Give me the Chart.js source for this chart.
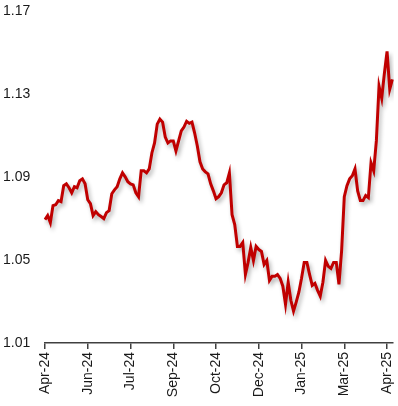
<!DOCTYPE html>
<html>
<head>
<meta charset="utf-8">
<script src="https://cdn.jsdelivr.net/npm/chart.js@4/dist/chart.umd.min.js"></script>
<style>
  html, body { margin: 0; padding: 0; background: #fff; }
  #wrap { width: 398px; height: 406px; position: relative; }
</style>
</head>
<body>
<div id="wrap"><canvas id="chart-id"></canvas></div>
<script>
// one point roughly every two trading days, Apr-24 .. Apr-25
const tickLabels = ['Apr-24', 'Jun-24', 'Jul-24', 'Sep-24', 'Oct-24', 'Dec-24', 'Jan-25', 'Mar-25', 'Apr-25'];
const tickEvery = 16;

const values = [
  1.0695, 1.0715, 1.0681, 1.0763, 1.0767, 1.0787, 1.0782, 1.0859, 1.0868, 1.0849,
  1.0825, 1.0854, 1.0849, 1.0883, 1.0892, 1.0868, 1.0791, 1.0772, 1.0715, 1.0734,
  1.0719, 1.0710, 1.0700, 1.0729, 1.0739, 1.0820, 1.0839, 1.0854, 1.0892, 1.0921,
  1.0902, 1.0878, 1.0868, 1.0863, 1.0825, 1.0806, 1.0931, 1.0931, 1.0921, 1.0940,
  1.1017, 1.1065, 1.1156, 1.1180, 1.1166, 1.1094, 1.1065, 1.1075, 1.1075, 1.1027,
  1.1075, 1.1123, 1.1142, 1.1170, 1.1160, 1.1166, 1.1113, 1.1051, 1.0974, 1.0940,
  1.0926, 1.0916, 1.0868, 1.0834, 1.0796, 1.0806, 1.0825, 1.0863, 1.0873, 1.0921,
  1.0719, 1.0671, 1.0566, 1.0566, 1.0585, 1.0431, 1.0489, 1.0561, 1.0498, 1.0566,
  1.0551, 1.0542, 1.0479, 1.0498, 1.0402, 1.0422, 1.0422, 1.0430, 1.0412, 1.0374,
  1.0287, 1.0393, 1.0306, 1.0254, 1.0297, 1.0345, 1.0412, 1.0489, 1.0489, 1.0431,
  1.0378, 1.0388, 1.0354, 1.0326, 1.0393, 1.0498, 1.0470, 1.0460, 1.0489, 1.0489,
  1.0383, 1.0546, 1.0806, 1.0859, 1.0892, 1.0907, 1.0940, 1.0834, 1.0787, 1.0787,
  1.0811, 1.0801, 1.0969, 1.0931, 1.1075, 1.1339, 1.1281, 1.1401, 1.1507, 1.1324,
  1.1372
];

const yMin = 1.01;
const yMax = 1.17;
const yStep = 0.04;

const labels = values.map((v, i) => (i % tickEvery === 0 ? tickLabels[i / tickEvery] : ''));

// soft grey drop shadow under the line, like the office chart
const lineShadow = {
  id: 'lineShadow',
  beforeDatasetDraw(chart) {
    const ctx = chart.ctx;
    ctx.save();
    ctx.shadowColor = 'rgba(0, 0, 0, 0.3)';
    ctx.shadowBlur = 4;
    ctx.shadowOffsetX = 2;
    ctx.shadowOffsetY = 3;
  },
  afterDatasetDraw(chart) {
    chart.ctx.restore();
  }
};

const axisColor = '#404040';

const config = {
  type: 'line',
  data: {
    labels: labels,
    datasets: [{
      data: values,
      borderColor: '#C00000',
      borderWidth: 3,
      pointRadius: 0,
      tension: 0,
      fill: false
    }]
  },
  options: {
    responsive: false,
    animation: false,
    devicePixelRatio: 1,
    layout: { padding: { left: 3, right: 5.6, top: 10, bottom: 0 } },
    plugins: { legend: { display: false }, tooltip: { enabled: false } },
    scales: {
      x: {
        type: 'category',
        offset: false,
        grid: {
          display: true,
          drawOnChartArea: false,
          drawTicks: true,
          tickLength: 6,
          color: axisColor,
          lineWidth: 1.5,
          offset: false
        },
        border: { display: true, color: axisColor, width: 1.5 },
        ticks: {
          autoSkip: false,
          minRotation: 90,
          maxRotation: 90,
          padding: 3,
          color: '#1a1a1a',
          font: { family: 'Liberation Sans', size: 14 }
        },
        afterBuildTicks: (s) => { s.ticks = s.ticks.filter(t => t.value % tickEvery === 0); },
        afterFit: (s) => { s.height = 63; s.paddingLeft = 0; s.paddingRight = 0; }
      },
      y: {
        min: yMin,
        max: yMax,
        grid: { display: false },
        border: { display: false },
        ticks: {
          stepSize: yStep,
          crossAlign: 'far',
          color: '#1a1a1a',
          font: { family: 'Liberation Sans', size: 14 },
          callback: (v) => v.toFixed(2)
        },
        afterFit: (s) => { s.width = 42; }
      }
    }
  },
  plugins: [lineShadow]
};

const canvas = document.getElementById('chart-id');
canvas.width = 398;
canvas.height = 406;
const myChart = new Chart(canvas, config);
</script>
</body>
</html>
